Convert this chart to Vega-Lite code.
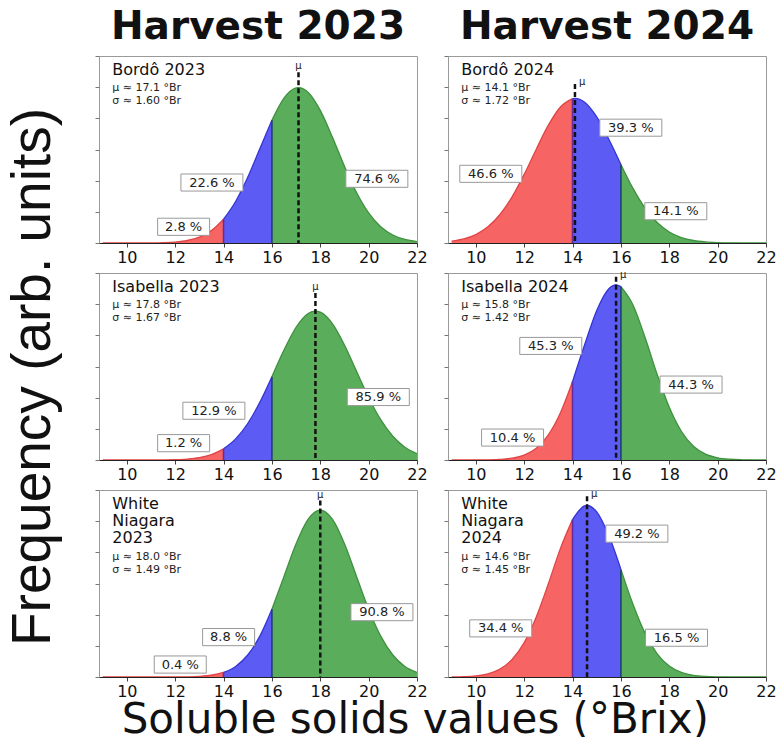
{
  "$schema": "https://vega.github.io/schema/vega-lite/v6.json",
  "background": "white",
  "padding": {"left": 5, "top": 8, "right": 0, "bottom": 0},
  "config": {
    "font": "DejaVu Sans",
    "view": {"stroke": "#9a9a9a", "strokeWidth": 1},
    "axis": {"grid": false}
  },
  "title": {"text": "Soluble solids values (°Brix)", "orient": "bottom", "font": "DejaVu Sans", "fontSize": 42, "fontWeight": "normal", "color": "#111", "anchor": "middle", "offset": 0, "dx": 24},
  "data": {"values": [
    {"k":"c","h":"2023","v":"Bordô","s":"lo","x":9,"y":0},
    {"k":"c","h":"2023","v":"Bordô","s":"lo","x":9.5,"y":0},
    {"k":"c","h":"2023","v":"Bordô","s":"lo","x":10,"y":0.00001},
    {"k":"c","h":"2023","v":"Bordô","s":"lo","x":10.5,"y":0.00005},
    {"k":"c","h":"2023","v":"Bordô","s":"lo","x":11,"y":0.00017},
    {"k":"c","h":"2023","v":"Bordô","s":"lo","x":11.5,"y":0.00055},
    {"k":"c","h":"2023","v":"Bordô","s":"lo","x":12,"y":0.00155},
    {"k":"c","h":"2023","v":"Bordô","s":"lo","x":12.5,"y":0.004},
    {"k":"c","h":"2023","v":"Bordô","s":"lo","x":13,"y":0.00936},
    {"k":"c","h":"2023","v":"Bordô","s":"lo","x":13.5,"y":0.01984},
    {"k":"c","h":"2023","v":"Bordô","s":"lo","x":14,"y":0.03816},
    {"k":"c","h":"2023","v":"Bordô","s":"mid","x":14,"y":0.03816},
    {"k":"c","h":"2023","v":"Bordô","s":"mid","x":14.5,"y":0.06659},
    {"k":"c","h":"2023","v":"Bordô","s":"mid","x":15,"y":0.10537},
    {"k":"c","h":"2023","v":"Bordô","s":"mid","x":15.5,"y":0.15123},
    {"k":"c","h":"2023","v":"Bordô","s":"mid","x":16,"y":0.19686},
    {"k":"c","h":"2023","v":"Bordô","s":"hi","x":16,"y":0.19686},
    {"k":"c","h":"2023","v":"Bordô","s":"hi","x":16.5,"y":0.23241},
    {"k":"c","h":"2023","v":"Bordô","s":"hi","x":17,"y":0.24885},
    {"k":"c","h":"2023","v":"Bordô","s":"hi","x":17.1,"y":0.24934},
    {"k":"c","h":"2023","v":"Bordô","s":"hi","x":17.5,"y":0.24167},
    {"k":"c","h":"2023","v":"Bordô","s":"hi","x":18,"y":0.21286},
    {"k":"c","h":"2023","v":"Bordô","s":"hi","x":18.5,"y":0.17004},
    {"k":"c","h":"2023","v":"Bordô","s":"hi","x":19,"y":0.1232},
    {"k":"c","h":"2023","v":"Bordô","s":"hi","x":19.5,"y":0.08095},
    {"k":"c","h":"2023","v":"Bordô","s":"hi","x":20,"y":0.04824},
    {"k":"c","h":"2023","v":"Bordô","s":"hi","x":20.5,"y":0.02608},
    {"k":"c","h":"2023","v":"Bordô","s":"hi","x":21,"y":0.01278},
    {"k":"c","h":"2023","v":"Bordô","s":"hi","x":21.5,"y":0.00568},
    {"k":"c","h":"2023","v":"Bordô","s":"hi","x":22,"y":0.00229},

    {"k":"c","h":"2024","v":"Bordô","s":"lo","x":9,"y":0.00286},
    {"k":"c","h":"2024","v":"Bordô","s":"lo","x":9.5,"y":0.00649},
    {"k":"c","h":"2024","v":"Bordô","s":"lo","x":10,"y":0.01354},
    {"k":"c","h":"2024","v":"Bordô","s":"lo","x":10.5,"y":0.02595},
    {"k":"c","h":"2024","v":"Bordô","s":"lo","x":11,"y":0.04571},
    {"k":"c","h":"2024","v":"Bordô","s":"lo","x":11.5,"y":0.07399},
    {"k":"c","h":"2024","v":"Bordô","s":"lo","x":12,"y":0.11007},
    {"k":"c","h":"2024","v":"Bordô","s":"lo","x":12.5,"y":0.15048},
    {"k":"c","h":"2024","v":"Bordô","s":"lo","x":13,"y":0.18905},
    {"k":"c","h":"2024","v":"Bordô","s":"lo","x":13.5,"y":0.21825},
    {"k":"c","h":"2024","v":"Bordô","s":"lo","x":14,"y":0.23155},
    {"k":"c","h":"2024","v":"Bordô","s":"mid","x":14,"y":0.23155},
    {"k":"c","h":"2024","v":"Bordô","s":"mid","x":14.1,"y":0.23194},
    {"k":"c","h":"2024","v":"Bordô","s":"mid","x":14.5,"y":0.22576},
    {"k":"c","h":"2024","v":"Bordô","s":"mid","x":15,"y":0.20227},
    {"k":"c","h":"2024","v":"Bordô","s":"mid","x":15.5,"y":0.16654},
    {"k":"c","h":"2024","v":"Bordô","s":"mid","x":16,"y":0.12601},
    {"k":"c","h":"2024","v":"Bordô","s":"hi","x":16,"y":0.12601},
    {"k":"c","h":"2024","v":"Bordô","s":"hi","x":16.5,"y":0.08762},
    {"k":"c","h":"2024","v":"Bordô","s":"hi","x":17,"y":0.05599},
    {"k":"c","h":"2024","v":"Bordô","s":"hi","x":17.5,"y":0.03288},
    {"k":"c","h":"2024","v":"Bordô","s":"hi","x":18,"y":0.01774},
    {"k":"c","h":"2024","v":"Bordô","s":"hi","x":18.5,"y":0.0088},
    {"k":"c","h":"2024","v":"Bordô","s":"hi","x":19,"y":0.00401},
    {"k":"c","h":"2024","v":"Bordô","s":"hi","x":19.5,"y":0.00168},
    {"k":"c","h":"2024","v":"Bordô","s":"hi","x":20,"y":0.00065},
    {"k":"c","h":"2024","v":"Bordô","s":"hi","x":20.5,"y":0.00023},
    {"k":"c","h":"2024","v":"Bordô","s":"hi","x":21,"y":0.00007},
    {"k":"c","h":"2024","v":"Bordô","s":"hi","x":21.5,"y":0.00002},
    {"k":"c","h":"2024","v":"Bordô","s":"hi","x":22,"y":0.00001},

    {"k":"c","h":"2023","v":"Isabella","s":"lo","x":9,"y":0},
    {"k":"c","h":"2023","v":"Isabella","s":"lo","x":9.5,"y":0},
    {"k":"c","h":"2023","v":"Isabella","s":"lo","x":10,"y":0},
    {"k":"c","h":"2023","v":"Isabella","s":"lo","x":10.5,"y":0.00002},
    {"k":"c","h":"2023","v":"Isabella","s":"lo","x":11,"y":0.00006},
    {"k":"c","h":"2023","v":"Isabella","s":"lo","x":11.5,"y":0.00019},
    {"k":"c","h":"2023","v":"Isabella","s":"lo","x":12,"y":0.00057},
    {"k":"c","h":"2023","v":"Isabella","s":"lo","x":12.5,"y":0.00155},
    {"k":"c","h":"2023","v":"Isabella","s":"lo","x":13,"y":0.00384},
    {"k":"c","h":"2023","v":"Isabella","s":"lo","x":13.5,"y":0.00868},
    {"k":"c","h":"2023","v":"Isabella","s":"lo","x":14,"y":0.01794},
    {"k":"c","h":"2023","v":"Isabella","s":"mid","x":14,"y":0.01794},
    {"k":"c","h":"2023","v":"Isabella","s":"mid","x":14.5,"y":0.03391},
    {"k":"c","h":"2023","v":"Isabella","s":"mid","x":15,"y":0.05858},
    {"k":"c","h":"2023","v":"Isabella","s":"mid","x":15.5,"y":0.09254},
    {"k":"c","h":"2023","v":"Isabella","s":"mid","x":16,"y":0.13364},
    {"k":"c","h":"2023","v":"Isabella","s":"hi","x":16,"y":0.13364},
    {"k":"c","h":"2023","v":"Isabella","s":"hi","x":16.5,"y":0.17644},
    {"k":"c","h":"2023","v":"Isabella","s":"hi","x":17,"y":0.21299},
    {"k":"c","h":"2023","v":"Isabella","s":"hi","x":17.5,"y":0.23506},
    {"k":"c","h":"2023","v":"Isabella","s":"hi","x":17.8,"y":0.23889},
    {"k":"c","h":"2023","v":"Isabella","s":"hi","x":18,"y":0.23718},
    {"k":"c","h":"2023","v":"Isabella","s":"hi","x":18.5,"y":0.2188},
    {"k":"c","h":"2023","v":"Isabella","s":"hi","x":19,"y":0.18453},
    {"k":"c","h":"2023","v":"Isabella","s":"hi","x":19.5,"y":0.14229},
    {"k":"c","h":"2023","v":"Isabella","s":"hi","x":20,"y":0.10031},
    {"k":"c","h":"2023","v":"Isabella","s":"hi","x":20.5,"y":0.06465},
    {"k":"c","h":"2023","v":"Isabella","s":"hi","x":21,"y":0.0381},
    {"k":"c","h":"2023","v":"Isabella","s":"hi","x":21.5,"y":0.02053},
    {"k":"c","h":"2023","v":"Isabella","s":"hi","x":22,"y":0.01011},

    {"k":"c","h":"2024","v":"Isabella","s":"lo","x":9,"y":0},
    {"k":"c","h":"2024","v":"Isabella","s":"lo","x":9.5,"y":0.00002},
    {"k":"c","h":"2024","v":"Isabella","s":"lo","x":10,"y":0.00007},
    {"k":"c","h":"2024","v":"Isabella","s":"lo","x":10.5,"y":0.00027},
    {"k":"c","h":"2024","v":"Isabella","s":"lo","x":11,"y":0.00093},
    {"k":"c","h":"2024","v":"Isabella","s":"lo","x":11.5,"y":0.00287},
    {"k":"c","h":"2024","v":"Isabella","s":"lo","x":12,"y":0.00783},
    {"k":"c","h":"2024","v":"Isabella","s":"lo","x":12.5,"y":0.01887},
    {"k":"c","h":"2024","v":"Isabella","s":"lo","x":13,"y":0.04021},
    {"k":"c","h":"2024","v":"Isabella","s":"lo","x":13.5,"y":0.07567},
    {"k":"c","h":"2024","v":"Isabella","s":"lo","x":14,"y":0.12581},
    {"k":"c","h":"2024","v":"Isabella","s":"mid","x":14,"y":0.12581},
    {"k":"c","h":"2024","v":"Isabella","s":"mid","x":14.5,"y":0.18477},
    {"k":"c","h":"2024","v":"Isabella","s":"mid","x":15,"y":0.23972},
    {"k":"c","h":"2024","v":"Isabella","s":"mid","x":15.5,"y":0.27475},
    {"k":"c","h":"2024","v":"Isabella","s":"mid","x":15.8,"y":0.28095},
    {"k":"c","h":"2024","v":"Isabella","s":"mid","x":16,"y":0.27817},
    {"k":"c","h":"2024","v":"Isabella","s":"hi","x":16,"y":0.27817},
    {"k":"c","h":"2024","v":"Isabella","s":"hi","x":16.5,"y":0.2488},
    {"k":"c","h":"2024","v":"Isabella","s":"hi","x":17,"y":0.19658},
    {"k":"c","h":"2024","v":"Isabella","s":"hi","x":17.5,"y":0.13721},
    {"k":"c","h":"2024","v":"Isabella","s":"hi","x":18,"y":0.08461},
    {"k":"c","h":"2024","v":"Isabella","s":"hi","x":18.5,"y":0.04608},
    {"k":"c","h":"2024","v":"Isabella","s":"hi","x":19,"y":0.02218},
    {"k":"c","h":"2024","v":"Isabella","s":"hi","x":19.5,"y":0.00943},
    {"k":"c","h":"2024","v":"Isabella","s":"hi","x":20,"y":0.00354},
    {"k":"c","h":"2024","v":"Isabella","s":"hi","x":20.5,"y":0.00117},
    {"k":"c","h":"2024","v":"Isabella","s":"hi","x":21,"y":0.00034},
    {"k":"c","h":"2024","v":"Isabella","s":"hi","x":21.5,"y":0.00009},
    {"k":"c","h":"2024","v":"Isabella","s":"hi","x":22,"y":0.00002},

    {"k":"c","h":"2023","v":"White Niagara","s":"lo","x":9,"y":0},
    {"k":"c","h":"2023","v":"White Niagara","s":"lo","x":9.5,"y":0},
    {"k":"c","h":"2023","v":"White Niagara","s":"lo","x":10,"y":0},
    {"k":"c","h":"2023","v":"White Niagara","s":"lo","x":10.5,"y":0},
    {"k":"c","h":"2023","v":"White Niagara","s":"lo","x":11,"y":0},
    {"k":"c","h":"2023","v":"White Niagara","s":"lo","x":11.5,"y":0.00002},
    {"k":"c","h":"2023","v":"White Niagara","s":"lo","x":12,"y":0.00008},
    {"k":"c","h":"2023","v":"White Niagara","s":"lo","x":12.5,"y":0.0003},
    {"k":"c","h":"2023","v":"White Niagara","s":"lo","x":13,"y":0.00096},
    {"k":"c","h":"2023","v":"White Niagara","s":"lo","x":13.5,"y":0.0028},
    {"k":"c","h":"2023","v":"White Niagara","s":"lo","x":14,"y":0.00729},
    {"k":"c","h":"2023","v":"White Niagara","s":"mid","x":14,"y":0.00729},
    {"k":"c","h":"2023","v":"White Niagara","s":"mid","x":14.5,"y":0.01697},
    {"k":"c","h":"2023","v":"White Niagara","s":"mid","x":15,"y":0.03527},
    {"k":"c","h":"2023","v":"White Niagara","s":"mid","x":15.5,"y":0.06553},
    {"k":"c","h":"2023","v":"White Niagara","s":"mid","x":16,"y":0.10876},
    {"k":"c","h":"2023","v":"White Niagara","s":"hi","x":16,"y":0.10876},
    {"k":"c","h":"2023","v":"White Niagara","s":"hi","x":16.5,"y":0.16131},
    {"k":"c","h":"2023","v":"White Niagara","s":"hi","x":17,"y":0.21375},
    {"k":"c","h":"2023","v":"White Niagara","s":"hi","x":17.5,"y":0.25309},
    {"k":"c","h":"2023","v":"White Niagara","s":"hi","x":18,"y":0.26775},
    {"k":"c","h":"2023","v":"White Niagara","s":"hi","x":18.5,"y":0.25309},
    {"k":"c","h":"2023","v":"White Niagara","s":"hi","x":19,"y":0.21375},
    {"k":"c","h":"2023","v":"White Niagara","s":"hi","x":19.5,"y":0.16131},
    {"k":"c","h":"2023","v":"White Niagara","s":"hi","x":20,"y":0.10876},
    {"k":"c","h":"2023","v":"White Niagara","s":"hi","x":20.5,"y":0.06553},
    {"k":"c","h":"2023","v":"White Niagara","s":"hi","x":21,"y":0.03527},
    {"k":"c","h":"2023","v":"White Niagara","s":"hi","x":21.5,"y":0.01697},
    {"k":"c","h":"2023","v":"White Niagara","s":"hi","x":22,"y":0.00729},

    {"k":"c","h":"2024","v":"White Niagara","s":"lo","x":9,"y":0.00016},
    {"k":"c","h":"2024","v":"White Niagara","s":"lo","x":9.5,"y":0.00057},
    {"k":"c","h":"2024","v":"White Niagara","s":"lo","x":10,"y":0.0018},
    {"k":"c","h":"2024","v":"White Niagara","s":"lo","x":10.5,"y":0.00505},
    {"k":"c","h":"2024","v":"White Niagara","s":"lo","x":11,"y":0.01262},
    {"k":"c","h":"2024","v":"White Niagara","s":"lo","x":11.5,"y":0.02799},
    {"k":"c","h":"2024","v":"White Niagara","s":"lo","x":12,"y":0.05513},
    {"k":"c","h":"2024","v":"White Niagara","s":"lo","x":12.5,"y":0.0964},
    {"k":"c","h":"2024","v":"White Niagara","s":"lo","x":13,"y":0.14967},
    {"k":"c","h":"2024","v":"White Niagara","s":"lo","x":13.5,"y":0.20634},
    {"k":"c","h":"2024","v":"White Niagara","s":"lo","x":14,"y":0.25256},
    {"k":"c","h":"2024","v":"White Niagara","s":"mid","x":14,"y":0.25256},
    {"k":"c","h":"2024","v":"White Niagara","s":"mid","x":14.5,"y":0.27448},
    {"k":"c","h":"2024","v":"White Niagara","s":"mid","x":14.6,"y":0.27513},
    {"k":"c","h":"2024","v":"White Niagara","s":"mid","x":15,"y":0.26486},
    {"k":"c","h":"2024","v":"White Niagara","s":"mid","x":15.5,"y":0.22693},
    {"k":"c","h":"2024","v":"White Niagara","s":"mid","x":16,"y":0.17263},
    {"k":"c","h":"2024","v":"White Niagara","s":"hi","x":16,"y":0.17263},
    {"k":"c","h":"2024","v":"White Niagara","s":"hi","x":16.5,"y":0.1166},
    {"k":"c","h":"2024","v":"White Niagara","s":"hi","x":17,"y":0.06993},
    {"k":"c","h":"2024","v":"White Niagara","s":"hi","x":17.5,"y":0.03724},
    {"k":"c","h":"2024","v":"White Niagara","s":"hi","x":18,"y":0.0176},
    {"k":"c","h":"2024","v":"White Niagara","s":"hi","x":18.5,"y":0.00739},
    {"k":"c","h":"2024","v":"White Niagara","s":"hi","x":19,"y":0.00275},
    {"k":"c","h":"2024","v":"White Niagara","s":"hi","x":19.5,"y":0.00091},
    {"k":"c","h":"2024","v":"White Niagara","s":"hi","x":20,"y":0.00027},
    {"k":"c","h":"2024","v":"White Niagara","s":"hi","x":20.5,"y":0.00007},
    {"k":"c","h":"2024","v":"White Niagara","s":"hi","x":21,"y":0.00002},
    {"k":"c","h":"2024","v":"White Niagara","s":"hi","x":21.5,"y":0},
    {"k":"c","h":"2024","v":"White Niagara","s":"hi","x":22,"y":0},

    {"k":"m","h":"2023","v":"Bordô","x":17.1,"y":0.274},
    {"k":"m","h":"2024","v":"Bordô","x":14.1,"y":0.255},
    {"k":"m","h":"2023","v":"Isabella","x":17.8,"y":0.268},
    {"k":"m","h":"2024","v":"Isabella","x":15.8,"y":0.294},
    {"k":"m","h":"2023","v":"White Niagara","x":18.0,"y":0.283},
    {"k":"m","h":"2024","v":"White Niagara","x":14.6,"y":0.29},

    {"k":"p","h":"2023","v":"Bordô","t":"2.8 %","x":12.35,"y":0.026},
    {"k":"p","h":"2023","v":"Bordô","t":"22.6 %","x":13.52,"y":0.097},
    {"k":"p","h":"2023","v":"Bordô","t":"74.6 %","x":20.34,"y":0.103},
    {"k":"p","h":"2024","v":"Bordô","t":"46.6 %","x":10.62,"y":0.111},
    {"k":"p","h":"2024","v":"Bordô","t":"39.3 %","x":16.41,"y":0.185},
    {"k":"p","h":"2024","v":"Bordô","t":"14.1 %","x":18.27,"y":0.051},
    {"k":"p","h":"2023","v":"Isabella","t":"1.2 %","x":12.35,"y":0.027},
    {"k":"p","h":"2023","v":"Isabella","t":"12.9 %","x":13.6,"y":0.079},
    {"k":"p","h":"2023","v":"Isabella","t":"85.9 %","x":20.4,"y":0.101},
    {"k":"p","h":"2024","v":"Isabella","t":"10.4 %","x":11.52,"y":0.036},
    {"k":"p","h":"2024","v":"Isabella","t":"45.3 %","x":13.1,"y":0.183},
    {"k":"p","h":"2024","v":"Isabella","t":"44.3 %","x":18.9,"y":0.121},
    {"k":"p","h":"2023","v":"White Niagara","t":"0.4 %","x":12.21,"y":0.02},
    {"k":"p","h":"2023","v":"White Niagara","t":"8.8 %","x":14.21,"y":0.064},
    {"k":"p","h":"2023","v":"White Niagara","t":"90.8 %","x":20.55,"y":0.104},
    {"k":"p","h":"2024","v":"White Niagara","t":"34.4 %","x":11.03,"y":0.078},
    {"k":"p","h":"2024","v":"White Niagara","t":"49.2 %","x":16.66,"y":0.23},
    {"k":"p","h":"2024","v":"White Niagara","t":"16.5 %","x":18.3,"y":0.063},

    {"k":"n","h":"2023","v":"Bordô","t":"Bordô 2023","st":"μ ≈ 17.1 °Br\nσ ≈ 1.60 °Br","sy":0.258},
    {"k":"n","h":"2024","v":"Bordô","t":"Bordô 2024","st":"μ ≈ 14.1 °Br\nσ ≈ 1.72 °Br","sy":0.258},
    {"k":"n","h":"2023","v":"Isabella","t":"Isabella 2023","st":"μ ≈ 17.8 °Br\nσ ≈ 1.67 °Br","sy":0.258},
    {"k":"n","h":"2024","v":"Isabella","t":"Isabella 2024","st":"μ ≈ 15.8 °Br\nσ ≈ 1.42 °Br","sy":0.258},
    {"k":"n","h":"2023","v":"White Niagara","t":"White\nNiagara\n2023","st":"μ ≈ 18.0 °Br\nσ ≈ 1.49 °Br","sy":0.202},
    {"k":"n","h":"2024","v":"White Niagara","t":"White\nNiagara\n2024","st":"μ ≈ 14.6 °Br\nσ ≈ 1.45 °Br","sy":0.202}
  ]},
  "facet": {
    "row": {"field": "v", "type": "nominal", "title": "Frequency (arb. units)",
      "header": {"labels": false, "titleFont": "Liberation Sans", "titleFontSize": 55, "titleFontWeight": "normal", "titleColor": "#111", "titlePadding": 22}},
    "column": {"field": "h", "type": "nominal", "title": null,
      "header": {"labelExpr": "'Harvest ' + datum.value", "labelFont": "DejaVu Sans", "labelFontSize": 39, "labelFontWeight": "bold", "labelColor": "#111", "labelPadding": 8}}
  },
  "spacing": {"row": 3, "column": 15},
  "resolve": {"axis": {"x": "independent", "y": "independent"}},
  "spec": {
    "width": 318,
    "height": 187,
    "layer": [
      {
        "transform": [{"filter": "datum.k == 'c'"}],
        "mark": {"type": "area", "interpolate": "monotone", "clip": true},
        "encoding": {
          "x": {"field": "x", "type": "quantitative",
            "scale": {"domain": [8.85, 22], "nice": false, "zero": false},
            "axis": {"title": null, "values": [10, 12, 14, 16, 18, 20, 22],
              "domainColor": "#222", "tickColor": "#444", "tickSize": 4, "labelFont": "DejaVu Sans", "labelFontSize": 16, "labelColor": "#111", "labelPadding": 2, "labelFlush": false, "labelOverlap": false}},
          "y": {"field": "y", "type": "quantitative", "stack": null,
            "scale": {"domain": [0, 0.3], "nice": false},
            "axis": {"title": null, "tickCount": 6, "labels": false, "domain": false, "tickSize": 4, "tickColor": "#777"}},
          "fill": {"field": "s", "type": "nominal", "legend": null,
            "scale": {"domain": ["lo", "mid", "hi"], "range": ["#f76464", "#5c5cf4", "#5aad5a"]}}
        }
      },
      {
        "transform": [{"filter": "datum.k == 'c'"}],
        "mark": {"type": "line", "interpolate": "monotone", "strokeWidth": 1.3, "clip": true},
        "encoding": {
          "x": {"field": "x", "type": "quantitative"},
          "y": {"field": "y", "type": "quantitative", "stack": null},
          "stroke": {"field": "s", "type": "nominal", "legend": null,
            "scale": {"domain": ["lo", "mid", "hi"], "range": ["#e04444", "#3434d4", "#3e913e"]}}
        }
      },
      {
        "transform": [{"filter": "datum.k == 'c' && datum.s == 'mid' && datum.x == 14"}],
        "mark": {"type": "rule", "strokeWidth": 1.6, "color": "#6a2a9c"},
        "encoding": {
          "x": {"field": "x", "type": "quantitative"},
          "y": {"field": "y", "type": "quantitative"},
          "y2": {"datum": 0}
        }
      },
      {
        "transform": [{"filter": "datum.k == 'c' && datum.s == 'mid' && datum.x == 16"}],
        "mark": {"type": "rule", "strokeWidth": 1.6, "color": "#1f3d7a"},
        "encoding": {
          "x": {"field": "x", "type": "quantitative"},
          "y": {"field": "y", "type": "quantitative"},
          "y2": {"datum": 0}
        }
      },
      {
        "transform": [{"filter": "datum.k == 'm'"}],
        "mark": {"type": "rule", "strokeWidth": 2.5, "strokeDash": [5, 3], "color": "#111"},
        "encoding": {
          "x": {"field": "x", "type": "quantitative"},
          "y": {"field": "y", "type": "quantitative"},
          "y2": {"datum": 0}
        }
      },
      {
        "transform": [{"filter": "datum.k == 'm' && datum.h == '2023'"}],
        "mark": {"type": "text", "fontSize": 10, "align": "center", "baseline": "bottom", "dy": -1, "color": "#222"},
        "encoding": {
          "x": {"field": "x", "type": "quantitative"},
          "y": {"field": "y", "type": "quantitative"},
          "text": {"value": "μ"}
        }
      },
      {
        "transform": [{"filter": "datum.k == 'm' && datum.h == '2024'"}],
        "mark": {"type": "text", "fontSize": 10, "align": "left", "baseline": "middle", "dx": 4, "dy": -2, "color": "#222"},
        "encoding": {
          "x": {"field": "x", "type": "quantitative"},
          "y": {"field": "y", "type": "quantitative"},
          "text": {"value": "μ"}
        }
      },
      {
        "transform": [{"filter": "datum.k == 'p' && length(datum.t) <= 5"}],
        "mark": {"type": "point", "shape": "M-1,-0.33L1,-0.33L1,0.33L-1,0.33Z", "size": 2704, "filled": true, "fill": "white", "stroke": "#999", "strokeWidth": 1, "opacity": 1},
        "encoding": {
          "x": {"field": "x", "type": "quantitative"},
          "y": {"field": "y", "type": "quantitative"}
        }
      },
      {
        "transform": [{"filter": "datum.k == 'p' && length(datum.t) > 5"}],
        "mark": {"type": "point", "shape": "M-1,-0.275L1,-0.275L1,0.275L-1,0.275Z", "size": 3844, "filled": true, "fill": "white", "stroke": "#999", "strokeWidth": 1, "opacity": 1},
        "encoding": {
          "x": {"field": "x", "type": "quantitative"},
          "y": {"field": "y", "type": "quantitative"}
        }
      },
      {
        "transform": [{"filter": "datum.k == 'p'"}],
        "mark": {"type": "text", "font": "DejaVu Sans", "fontSize": 13, "align": "center", "baseline": "middle", "color": "#222"},
        "encoding": {
          "x": {"field": "x", "type": "quantitative"},
          "y": {"field": "y", "type": "quantitative"},
          "text": {"field": "t", "type": "nominal"}
        }
      },
      {
        "transform": [{"filter": "datum.k == 'n'"}],
        "mark": {"type": "text", "font": "DejaVu Sans", "fontSize": 16, "lineHeight": 17, "lineBreak": "\n", "align": "left", "baseline": "top", "color": "#111"},
        "encoding": {
          "x": {"datum": 9.4, "type": "quantitative"},
          "y": {"datum": 0.29, "type": "quantitative"},
          "text": {"field": "t", "type": "nominal"}
        }
      },
      {
        "transform": [{"filter": "datum.k == 'n'"}],
        "mark": {"type": "text", "font": "DejaVu Sans", "fontSize": 11, "lineHeight": 13, "lineBreak": "\n", "align": "left", "baseline": "top", "color": "#222"},
        "encoding": {
          "x": {"datum": 9.4, "type": "quantitative"},
          "y": {"field": "sy", "type": "quantitative"},
          "text": {"field": "st", "type": "nominal"}
        }
      }
    ]
  }
}
